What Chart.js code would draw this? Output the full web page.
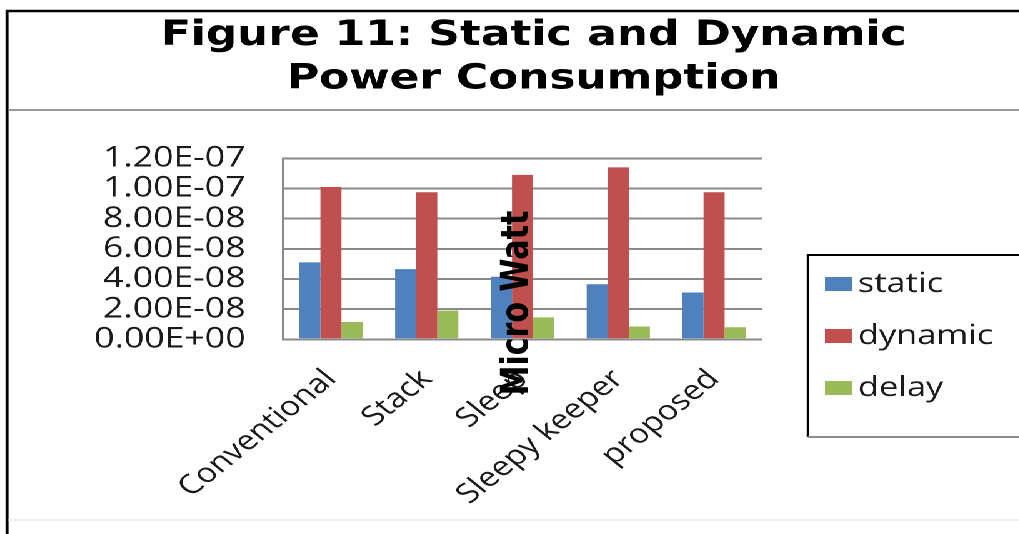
<!DOCTYPE html>
<html>
<head>
<meta charset="utf-8">
<title>Static and Dynamic Power Consumption</title>
<script src="https://cdn.jsdelivr.net/npm/chart.js@4.4.1/dist/chart.umd.min.js"></script>
<style>
  html, body { margin: 0; padding: 0; background: #fff; overflow: hidden; width: 1019px; height: 534px; }
  #wrap {
    position: absolute; left: 0; top: 0;
    width: 830px; height: 534px;
    transform: scaleX(1.25); transform-origin: 0 0;
    background: #fff;
  }
  canvas { display: block; }
</style>
</head>
<body>
<div id="wrap"><canvas id="chart" width="830" height="534"></canvas></div>
<script>
// ---- data ----
const categories = ['Conventional', 'Stack', 'Sleep', 'Sleepy keeper', 'proposed'];
const staticPower = [5.1e-8, 4.65e-8, 4.15e-8, 3.65e-8, 3.1e-8];
const dynamicPower = [1.01e-7, 9.75e-8, 1.09e-7, 1.14e-7, 9.75e-8];
const delayValues = [1.15e-8, 1.9e-8, 1.45e-8, 0.85e-8, 0.8e-8];
const seriesNames = ['static', 'dynamic', 'delay'];
const yTickLabels = ['0.00E+00', '2.00E-08', '4.00E-08', '6.00E-08', '8.00E-08', '1.00E-07', '1.20E-07'];
const titleLines = ['Figure 11: Static and Dynamic', 'Power Consumption'];
const axisTitle = 'Micro Watt';

// canvas runs a little past the right edge of the window, as the figure frame does
const W = 830, H = 534;
const TEXT_FONT = '"Open Sans", "DejaVu Sans", sans-serif';
const BOLD_FONT = '"DejaVu Sans", "Open Sans", sans-serif';

// Outer frame, title separator and a faint footer rule
const framePlugin = {
  id: 'frame',
  beforeDraw(chart) {
    const ctx = chart.ctx;
    ctx.save();
    ctx.fillStyle = '#fff';
    ctx.fillRect(0, 0, W, H);
    ctx.strokeStyle = '#000';
    ctx.lineWidth = 2.4;
    ctx.beginPath();
    ctx.moveTo(5.6, H);
    ctx.lineTo(5.6, 11);
    ctx.lineTo(W, 11);
    ctx.stroke();
    ctx.strokeStyle = '#9b9b9b';
    ctx.lineWidth = 2;
    ctx.beginPath();
    ctx.moveTo(6.8, 110);
    ctx.lineTo(W, 110);
    ctx.stroke();
    ctx.strokeStyle = '#f0f0f0';
    ctx.beginPath();
    ctx.moveTo(6.8, 520);
    ctx.lineTo(W, 520);
    ctx.stroke();
    ctx.restore();
  }
};

// Boxed legend on the right, built from the datasets
const boxLegendPlugin = {
  id: 'boxLegend',
  afterDraw(chart) {
    const ctx = chart.ctx;
    const left = 646.4, top = 255, bottom = 437;
    ctx.save();
    ctx.strokeStyle = '#000';
    ctx.lineWidth = 2;
    ctx.beginPath();
    ctx.moveTo(W, top);
    ctx.lineTo(left, top);
    ctx.lineTo(left, bottom);
    ctx.stroke();
    ctx.strokeStyle = '#8c8c8c';
    ctx.beginPath();
    ctx.moveTo(left, bottom);
    ctx.lineTo(W, bottom);
    ctx.stroke();
    ctx.font = '27.5px ' + TEXT_FONT;
    ctx.textBaseline = 'alphabetic';
    ctx.textAlign = 'left';
    chart.data.datasets.forEach((ds, i) => {
      const cy = 284 + i * 52;
      ctx.fillStyle = ds.backgroundColor;
      ctx.fillRect(660, cy - 7, 21.6, 14);
      ctx.fillStyle = '#1a1a1a';
      ctx.fillText(ds.label, 686.4, cy + 8);
    });
    ctx.restore();
  }
};

// Vertical value-axis caption placed over the plot
const captionPlugin = {
  id: 'caption',
  afterDraw(chart) {
    const { ctx, chartArea } = chart;
    ctx.save();
    ctx.translate(chartArea.left + 0.49 * chartArea.width, 303);
    ctx.rotate(-Math.PI / 2);
    ctx.font = 'bold 30px ' + BOLD_FONT;
    ctx.fillStyle = '#000';
    ctx.textAlign = 'center';
    ctx.textBaseline = 'middle';
    ctx.fillText(axisTitle, 0, 0);
    ctx.restore();
  }
};

const colors = ['#4F81BD', '#C0504D', '#9BBB59'];
const seriesValues = [staticPower, dynamicPower, delayValues];

new Chart(document.getElementById('chart'), {
  type: 'bar',
  data: {
    labels: categories,
    datasets: seriesNames.map((name, i) => ({
      label: name,
      data: seriesValues[i],
      backgroundColor: colors[i],
      borderWidth: 0,
      categoryPercentage: 0.66,
      barPercentage: 1.0
    }))
  },
  options: {
    responsive: false,
    animation: false,
    devicePixelRatio: 2,
    layout: { padding: { top: 14, left: 39, right: 15, bottom: 0 } },
    plugins: {
      legend: { display: false },
      tooltip: { enabled: false },
      title: {
        display: true,
        text: titleLines,
        color: '#000',
        font: { family: BOLD_FONT, size: 35, weight: 'bold', lineHeight: 1.25 },
        padding: { top: 0, bottom: 56.8 }
      }
    },
    scales: {
      x: {
        grid: { display: false, drawTicks: false },
        border: { display: true, color: '#8a8a8a', width: 2 },
        ticks: {
          autoSkip: false,
          minRotation: 45,
          maxRotation: 45,
          padding: 24,
          color: '#1a1a1a',
          font: { family: TEXT_FONT, size: 27 }
        },
        afterFit(scale) { scale.height = H - 339.3; }
      },
      y: {
        min: 0,
        max: 1.2e-7,
        grid: { color: '#8a8a8a', lineWidth: 2, drawTicks: false },
        border: { display: true, color: '#8a8a8a', width: 2 },
        ticks: {
          stepSize: 2e-8,
          autoSkip: false,
          padding: 30,
          color: '#1a1a1a',
          font: { family: TEXT_FONT, size: 28.5 },
          callback: (value, index) => yTickLabels[index]
        },
        afterFit(scale) { scale.width = 187.4; }
      },
      // empty strip on the right that holds the boxed legend
      legendStrip: {
        type: 'linear',
        position: 'right',
        display: true,
        grid: { display: false, drawTicks: false },
        border: { display: false },
        ticks: { display: false },
        afterFit(scale) { scale.width = 205.4; }
      }
    }
  },
  plugins: [framePlugin, boxLegendPlugin, captionPlugin]
});
</script>
</body>
</html>
